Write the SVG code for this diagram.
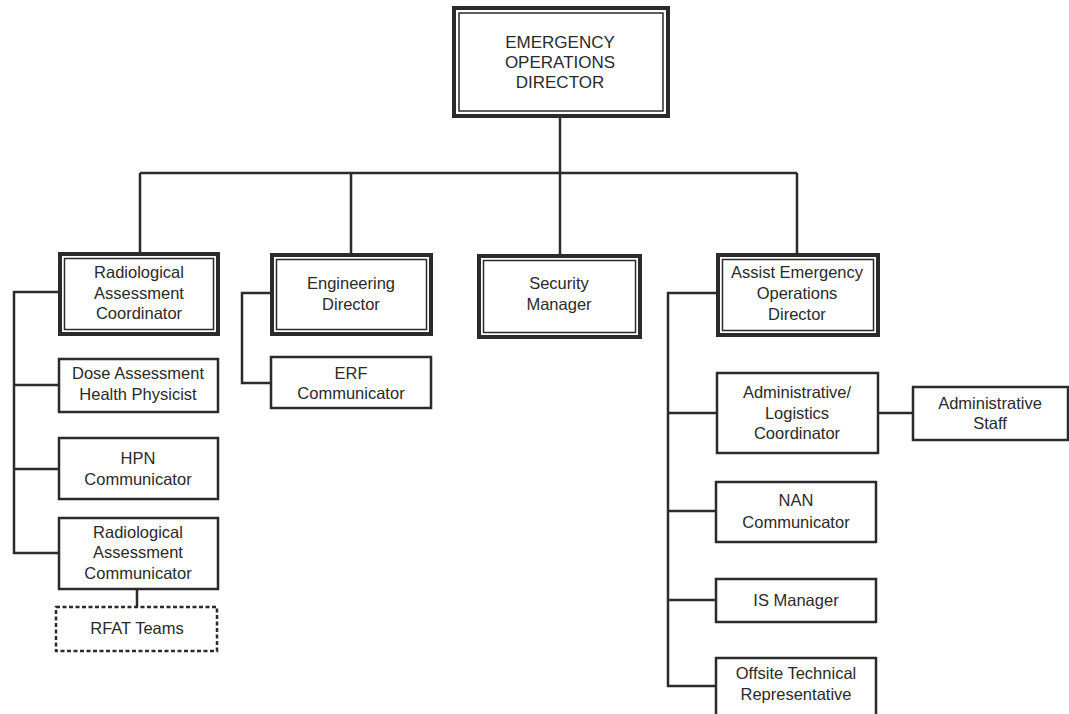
<svg xmlns="http://www.w3.org/2000/svg" width="1069" height="714" viewBox="0 0 1069 714">
<style>
.bg{fill:#ffffff}
.box{fill:#ffffff;stroke:#2b2b2b;stroke-width:2.5}
.outer{fill:#ffffff;stroke:#2b2b2b;stroke-width:4}
.inner{fill:none;stroke:#2b2b2b;stroke-width:1.5}
.dash{fill:#ffffff;stroke:#2b2b2b;stroke-width:2.5;stroke-dasharray:4 2.5}
.ln{fill:none;stroke:#2b2b2b;stroke-width:2.5}
text{font-family:"Liberation Sans",Arial,sans-serif;font-size:16.5px;fill:#2a2a2a;text-anchor:middle}
.big{font-size:17px}
</style>
<rect class="bg" x="0" y="0" width="1069" height="714"/>
<g id="connectors">
<path class="ln" d="M560 116V173M140 173H797M140 173V253M351 173V254M560 173V255M797 173V254"/>
<path class="ln" d="M59 292H14V553H59M14 385H59M14 469H59M137 589V607"/>
<path class="ln" d="M271 293H242V383H271"/>
<path class="ln" d="M717 293H668V686H717M668 413H717M878 413H913M668 511H716M668 600H716"/>
</g>
<g id="eod">
<rect class="outer" x="454" y="8" width="214" height="108"/>
<rect class="inner" x="459" y="13" width="204" height="98"/>
<text class="big" x="560" y="48">EMERGENCY</text>
<text class="big" x="560" y="68">OPERATIONS</text>
<text class="big" x="560" y="88">DIRECTOR</text>
</g>
<g id="rac">
<rect class="outer" x="60" y="254" width="158" height="80"/>
<rect class="inner" x="64.5" y="258.5" width="149" height="71"/>
<text x="139" y="278">Radiological</text>
<text x="139" y="299">Assessment</text>
<text x="139" y="319">Coordinator</text>
</g>
<g id="dose">
<rect class="box" x="59" y="359" width="159" height="53"/>
<text x="138" y="379">Dose Assessment</text>
<text x="138" y="400">Health Physicist</text>
</g>
<g id="hpn">
<rect class="box" x="59" y="438" width="159" height="61"/>
<text x="138" y="464">HPN</text>
<text x="138" y="485">Communicator</text>
</g>
<g id="rcomm">
<rect class="box" x="59" y="518" width="159" height="71"/>
<text x="138" y="538">Radiological</text>
<text x="138" y="558">Assessment</text>
<text x="138" y="579">Communicator</text>
</g>
<g id="rfat">
<rect class="dash" x="56" y="607" width="161" height="44"/>
<text x="137" y="634">RFAT Teams</text>
</g>
<g id="eng">
<rect class="outer" x="272" y="255" width="159" height="79"/>
<rect class="inner" x="276.5" y="259.5" width="150" height="70"/>
<text x="351" y="289">Engineering</text>
<text x="351" y="310">Director</text>
</g>
<g id="erf">
<rect class="box" x="271" y="357" width="160" height="51"/>
<text x="351" y="379">ERF</text>
<text x="351" y="399">Communicator</text>
</g>
<g id="sec">
<rect class="outer" x="479" y="256" width="161" height="81"/>
<rect class="inner" x="483.5" y="260.5" width="152" height="72"/>
<text x="559" y="289">Security</text>
<text x="559" y="310">Manager</text>
</g>
<g id="aeod">
<rect class="outer" x="718" y="255" width="160" height="80"/>
<rect class="inner" x="722.5" y="259.5" width="151" height="71"/>
<text x="797" y="278">Assist Emergency</text>
<text x="797" y="299">Operations</text>
<text x="797" y="320">Director</text>
</g>
<g id="alc">
<rect class="box" x="717" y="373" width="161" height="80"/>
<text x="797" y="398">Administrative/</text>
<text x="797" y="419">Logistics</text>
<text x="797" y="439">Coordinator</text>
</g>
<g id="staff">
<rect class="box" x="913" y="387" width="155" height="53"/>
<text x="990" y="409">Administrative</text>
<text x="990" y="429">Staff</text>
</g>
<g id="nan">
<rect class="box" x="716" y="482" width="160" height="60"/>
<text x="796" y="506">NAN</text>
<text x="796" y="528">Communicator</text>
</g>
<g id="is">
<rect class="box" x="716" y="579" width="160" height="43"/>
<text x="796" y="606">IS Manager</text>
</g>
<g id="offsite">
<rect class="box" x="716" y="658" width="160" height="60"/>
<text x="796" y="679">Offsite Technical</text>
<text x="796" y="700">Representative</text>
</g>
</svg>
